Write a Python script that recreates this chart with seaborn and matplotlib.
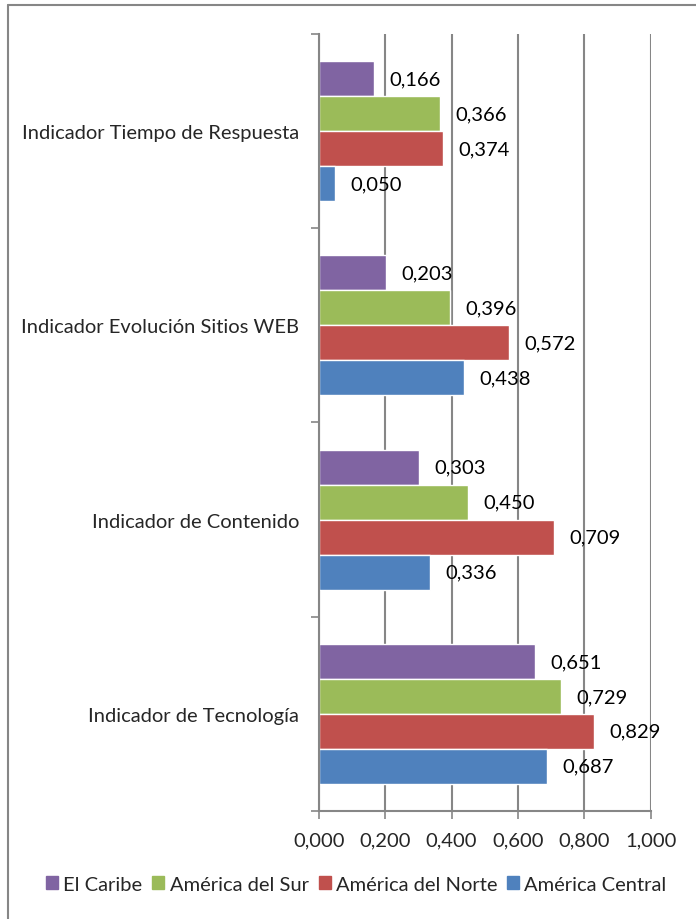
import matplotlib
matplotlib.use("Agg")
import matplotlib.pyplot as plt
import seaborn as sns
import pandas as pd
from matplotlib.lines import Line2D

# data
categorias = [
    "Indicador Tiempo de Respuesta",
    "Indicador Evolución Sitios WEB",
    "Indicador de Contenido",
    "Indicador de Tecnología",
]
regiones = ["El Caribe", "América del Sur", "América del Norte", "América Central"]
el_caribe = [0.166, 0.203, 0.303, 0.651]
america_sur = [0.366, 0.396, 0.450, 0.729]
america_norte = [0.374, 0.572, 0.709, 0.829]
america_central = [0.050, 0.438, 0.336, 0.687]
x_ticks = [0.0, 0.2, 0.4, 0.6, 0.8, 1.0]

colores = ["#8064A2", "#9BBB59", "#C0504D", "#4F81BD"]
gris = "#868686"

series = [el_caribe, america_sur, america_norte, america_central]
rows = []
for reg, vals in zip(regiones, series):
    for cat, v in zip(categorias, vals):
        rows.append({"Indicador": cat, "Region": reg, "Valor": v})
df = pd.DataFrame(rows)

sns.set_style("white")
plt.rcParams["font.family"] = ["Lato", "DejaVu Sans"]
fs = 14.5

fig = plt.figure(figsize=(6.96, 9.2), dpi=100)
ax = fig.add_axes([0.458, 0.1174, 0.477, 0.8446])

sns.barplot(
    data=df, y="Indicador", x="Valor", hue="Region",
    order=categorias, hue_order=regiones, palette=colores,
    orient="h", width=0.72, saturation=1, ax=ax, legend=False,
)

for cont in ax.containers:
    ax.bar_label(cont, labels=[f"{b.get_width():.3f}".replace(".", ",") for b in cont],
                 padding=11, fontsize=fs, color="black")

ax.set_xlim(0, 1.0)
ax.set_ylim(3.5, -0.5)
ax.set_xticks(x_ticks)
ax.set_xticklabels([f"{t:.3f}".replace(".", ",") for t in x_ticks], fontsize=fs)
ax.xaxis.grid(True, color=gris, linewidth=1.5)
ax.set_axisbelow(True)

# category boundaries as major ticks, names as minor
ax.set_yticks([-0.5, 0.5, 1.5, 2.5, 3.5])
ax.set_yticklabels([])
ax.set_yticks(range(len(categorias)), minor=True)
ax.set_yticklabels(categorias, minor=True, fontsize=fs)
ax.tick_params(axis="y", which="major", length=6, width=1.2, color=gris, left=True)
ax.tick_params(axis="y", which="minor", length=0, pad=14)
ax.tick_params(axis="x", length=6, width=1.2, color=gris, bottom=True, pad=9)

ax.set_xlabel("")
ax.set_ylabel("")
for s in ["top", "right"]:
    ax.spines[s].set_visible(False)
for s in ["left", "bottom"]:
    ax.spines[s].set_color(gris)
    ax.spines[s].set_linewidth(1.5)

handles = [plt.Rectangle((0, 0), 1, 1, color=c) for c in colores]
fig.legend(handles, regiones, loc="center", bbox_to_anchor=(0.512, 0.038), ncol=4,
           frameon=False, fontsize=fs, handlelength=0.6, handleheight=0.6,
           handletextpad=0.25, columnspacing=0.5)

# chart border (top and left)
fig.add_artist(Line2D([8 / 696, 1], [1 - 6 / 920, 1 - 6 / 920], color=gris, lw=1.5))
fig.add_artist(Line2D([8 / 696, 8 / 696], [0, 1 - 6 / 920], color=gris, lw=1.5))

fig.savefig("out.png", dpi=100)
